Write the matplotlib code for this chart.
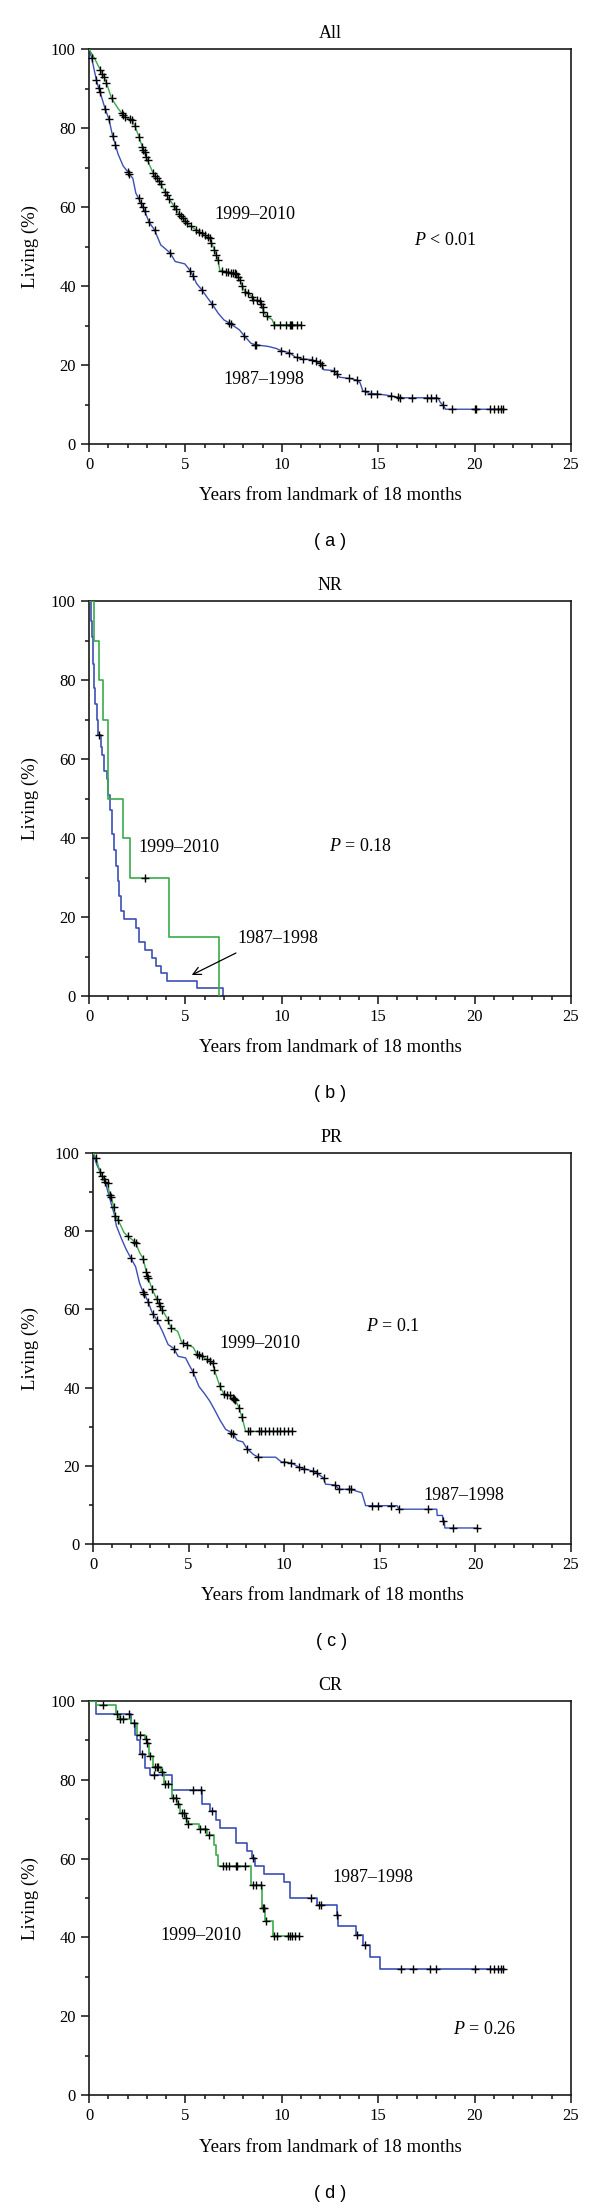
import numpy as np
import matplotlib
matplotlib.use("Agg")
import matplotlib.pyplot as plt

plt.rcParams['font.family'] = ['Liberation Serif', 'DejaVu Serif']
plt.rcParams['mathtext.fontset'] = 'custom'
plt.rcParams['mathtext.rm'] = 'Liberation Serif'
plt.rcParams['mathtext.it'] = 'Liberation Serif:italic'

BLUE = '#3c4fb4'
GREEN = '#3aab4c'

# ---------------- Panel (a) All : curve paths (t, survival %) ----------------
a_green_t = [0, 0.3, 0.58, 0.78, 0.9, 1.17, 1.5, 1.69, 1.85, 2.25, 2.37, 2.6, 2.76, 2.88, 3.04, 3.32,
             3.72, 3.92, 4.16, 4.4, 4.67, 5.1, 5.3, 5.55, 6.26, 6.35, 6.5, 6.7, 6.78, 7.65, 7.84, 7.94,
             8.1, 8.25, 8.45, 8.53, 8.85, 9.0, 9.05, 9.23, 9.5, 9.6, 11.0]
a_green_s = [100, 97.5, 94.8, 92.9, 91.5, 87.5, 85, 83.8, 82.8, 81.9, 80.6, 77.7, 75.3, 73.8, 71.8, 68.6,
             65.9, 63.9, 62, 60.3, 58.2, 55.9, 55.1, 54.2, 52.1, 51, 49.2, 46.6, 44, 43.1, 41.6, 39.9,
             38.6, 38.3, 37.3, 36.5, 36.2, 34.6, 33.5, 32.3, 31.5, 30.2, 30.2]
a_green_cens = [0.58, 0.7, 0.78, 0.9, 1.17, 1.69, 1.77, 1.85, 2.13, 2.25, 2.37, 2.6, 2.76, 2.82, 2.88,
                2.98, 3.04, 3.32, 3.42, 3.52, 3.62, 3.72, 3.92, 4.02, 4.16, 4.4, 4.5, 4.67, 4.77, 4.87,
                5.0, 5.1, 5.3, 5.55, 5.7, 5.85, 6.0, 6.15, 6.26, 6.35, 6.5, 6.6, 6.7, 6.9, 7.1, 7.2,
                7.35, 7.45, 7.55, 7.65, 7.74, 7.84, 7.94, 8.1, 8.25, 8.45, 8.53, 8.7, 8.85, 8.93, 9.0,
                9.05, 9.23, 9.6, 9.9, 10.2, 10.4, 10.5, 10.55, 10.8, 11.0]
a_blue_t = [0, 0.14, 0.38, 0.5, 0.58, 0.84, 1.03, 1.23, 1.37, 1.5, 1.63, 1.77, 2.03, 2.09, 2.27, 2.43,
            2.57, 2.88, 3.12, 3.4, 3.72, 3.92, 4.22, 4.47, 4.97, 5.15, 5.4, 5.57, 5.87, 6.1, 6.42, 6.7,
            7.0, 7.3, 7.5, 7.8, 8.05, 8.4, 8.65, 9.3, 9.7, 9.98, 10.4, 10.7, 11.1, 11.5, 11.8, 12.0,
            12.1, 12.17, 12.7, 12.9, 13.0, 13.5, 13.9, 14.06, 14.2, 14.55, 14.95, 15.65, 16.05, 16.2,
            18.1, 18.2, 18.4, 18.5, 21.5]
a_blue_s = [100, 97.7, 92.2, 90.1, 89, 84.8, 82.3, 77.9, 75.8, 73.5, 72, 70.4, 68.8, 68.4, 67.3, 63.5,
            62.2, 59.1, 56.1, 54.2, 50.4, 49.6, 48.3, 46.2, 45.6, 44.5, 42.6, 40.7, 38.9, 37.3, 35.2, 33.1,
            31.4, 30.6, 29.9, 28.9, 27.4, 25.5, 25.1, 24.7, 24.2, 23.6, 23.1, 22, 21.5, 21.4, 20.9, 20.4,
            19.8, 18.8, 18.6, 17.5, 16.9, 16.6, 16.2, 15.5, 13.5, 12.8, 12.7, 12.2, 11.8, 11.7,
            11.7, 10.7, 9.5, 8.8, 8.8]
a_blue_cens = [0.14, 0.38, 0.5, 0.58, 0.84, 1.03, 1.23, 1.37, 2.03, 2.09, 2.57, 2.68, 2.78, 2.88, 3.12,
               3.4, 4.22, 5.25, 5.41, 5.87, 6.4, 7.26, 7.34, 8.05, 8.6, 8.65, 9.98, 10.38, 10.78, 11.08,
               11.58, 11.77, 11.97, 12.07, 12.71, 12.87, 13.46, 13.9, 14.3, 14.62, 14.95, 15.65, 16.05,
               16.15, 16.75, 17.54, 17.74, 17.99, 18.34, 18.84, 20.03, 20.07, 20.78, 21.02, 21.22,
               21.36, 21.46]

# ---------------- Panel (b) NR : step data ----------------
b_green_t = [0, 0.24, 0.5, 0.74, 0.99, 1.77, 2.13, 4.16, 6.76]
b_green_s = [100, 90, 80, 70, 50, 40, 30, 15, 0]
b_green_cens = [2.88]
b_blue_t = [0, 0.08, 0.14, 0.2, 0.26, 0.32, 0.4, 0.46, 0.6, 0.7, 0.78, 0.92, 0.99, 1.1, 1.2, 1.3, 1.4,
            1.5, 1.58, 1.68, 1.8, 2.46, 2.6, 2.89, 3.29, 3.5, 3.76, 4.02, 5.6, 6.96]
b_blue_s = [100, 95, 91, 84, 78, 74, 70, 66, 63, 61, 57, 55, 51, 47, 41, 37, 33,
            29, 25.3, 21.5, 19.6, 17.3, 13.6, 11.6, 9.6, 7.7, 5.8, 3.9, 2, 0]
b_blue_cens = [0.5]

# ---------------- Panel (c) PR : curve paths ----------------
c_green_t = [0, 0.16, 0.36, 0.64, 0.76, 0.88, 0.96, 1.08, 1.16, 1.32, 1.63, 1.83, 2.23, 2.43, 2.63, 2.79,
             2.89, 3.09, 3.33, 3.49, 3.63, 3.93, 4.09, 4.43, 4.63, 4.9, 5.24, 5.44, 5.68, 6.28, 6.34,
             6.64, 6.84, 7.14, 7.44, 7.64, 7.84, 7.98, 10.45]
c_green_s = [100, 98.8, 95.2, 92.6, 92.4, 89.2, 88.7, 86.3, 83.9, 82.8, 79.6, 78.7, 77.1, 74.6, 72.9, 69.5,
             68, 65.2, 62.7, 60.8, 59.9, 57.2, 55.2, 54.4, 51.7, 51, 50.3, 48.5, 48, 46.2, 44.6,
             40.3, 38.4, 38, 36.9, 34.8, 31.6, 28.8, 28.8]
c_green_cens = [0.16, 0.36, 0.48, 0.56, 0.64, 0.76, 0.88, 0.96, 1.08, 1.16, 1.32, 1.83, 2.17, 2.23, 2.63,
                2.79, 2.85, 2.89, 3.09, 3.33, 3.43, 3.49, 3.63, 3.93, 4.09, 4.73, 4.9, 5.44, 5.55, 5.68,
                5.94, 6.1, 6.28, 6.34, 6.64, 6.84, 7.0, 7.14, 7.3, 7.38, 7.44, 7.64, 7.78, 8.1, 8.2, 8.7,
                8.8, 9.0, 9.2, 9.4, 9.6, 9.8, 10.0, 10.2, 10.4]
c_blue_t = [0, 0.2, 0.42, 0.62, 0.82, 0.96, 1.12, 1.22, 1.48, 1.72, 1.97, 2.23, 2.43, 2.57, 2.69, 2.89,
            3.09, 3.33, 3.63, 3.93, 4.23, 4.45, 4.84, 5.04, 5.24, 5.54, 5.84, 6.1, 6.34, 6.64, 6.94, 7.14,
            7.34, 7.54, 7.84, 8.05, 8.39, 8.65, 9.55, 9.85, 10.35, 10.75, 11.05, 11.56, 12.06, 12.16,
            12.66, 12.86, 13.46, 14.06, 14.26, 15.9, 16.0, 17.98, 18.0, 18.28, 18.3, 18.38, 18.4, 20.1]
c_blue_s = [100, 97, 94.7, 92.9, 89.4, 86.9, 84.2, 81.4, 78.2, 75.5, 73.2, 70.9, 66.8, 65, 64, 61.9,
            59.2, 57.4, 54.4, 51, 50, 48, 47.6, 45.7, 43.9, 40.3, 38.4, 36.6, 34.5, 31.7, 29.3, 28.8,
            28.1, 26.5, 26.1, 24.4, 22.9, 22.2, 22.2, 21, 20.8, 19.7, 19.2, 18.6, 16.9, 15.3,
            15.1, 14, 14, 13.1, 9.8, 9.8, 8.9, 8.9, 7.3, 7.3, 5.9, 5.9, 4.1, 4.1]
c_blue_cens = [1.97, 2.63, 2.69, 2.89, 3.15, 3.33, 4.23, 5.24, 7.24, 7.34, 8.05, 8.65, 10.0, 10.35, 10.8,
               11.05, 11.5, 11.7, 12.06, 12.66, 12.86, 13.4, 13.5, 14.6, 14.9, 15.6, 16.0, 17.5, 18.3,
               18.85, 20.1]

# ---------------- Panel (d) CR : step data ----------------
d_green_t = [0, 0.38, 1.39, 1.55, 2.2, 2.5, 2.9, 3.0, 3.1, 3.3, 3.75, 3.9, 4.3, 4.58, 4.7, 4.98, 5.08,
             5.7, 6.1, 6.5, 6.6, 6.7, 8.4, 8.95, 8.98, 9.15, 9.55, 10.9]
d_green_s = [100, 99.1, 96.6, 95.4, 94.4, 91.3, 90.3, 89.3, 86, 83.2, 82, 78.9, 75.4, 73.8, 71.6, 70.3,
             68.9, 67.5, 65.9, 63.5, 61, 58.1, 53.3, 50, 47.5, 44.1, 40.4, 40.4]
d_green_cens = [0.74, 1.43, 1.63, 1.77, 2.33, 2.63, 2.98, 3.02, 3.16, 3.42, 3.52, 3.6, 3.78, 3.96, 4.12,
                4.36, 4.5, 4.61, 4.81, 4.91, 5.01, 5.11, 5.75, 6.0, 6.2, 6.95, 7.1, 7.25, 7.6, 7.7, 8.1,
                8.5, 8.65, 8.9, 9.0, 9.09, 9.19, 9.6, 9.75, 10.3, 10.45, 10.55, 10.7, 10.9]
d_blue_t = [0, 0.38, 2.2, 2.4, 2.5, 2.65, 2.9, 3.15, 4.28, 5.88, 6.3, 6.6, 6.8, 7.6, 8.2, 8.45, 8.6,
            9.1, 10.1, 10.45, 11.8, 12.85, 12.92, 13.85, 14.2, 14.55, 15.1, 21.5]
d_blue_s = [100, 96.6, 94.4, 91.3, 90.1, 86.6, 83, 81.2, 77.3, 73.8, 72, 69.8, 67.7, 64, 62, 60.1, 58.2,
            56, 54, 50, 48.2, 45.6, 43, 40.7, 38, 35, 32, 32]
d_blue_cens = [2.09, 2.75, 3.38, 5.4, 5.8, 6.4, 8.53, 11.5, 11.95, 12.05, 12.87, 13.9, 14.3, 16.2, 16.8,
               17.7, 18.0, 20.0, 20.8, 21.0, 21.2, 21.35, 21.45]

# ---------------- Texts ----------------
titles = ['All', 'NR', 'PR', 'CR']
panel_tags = ['( a )', '( b )', '( c )', '( d )']
xlabel = 'Years from landmark of 18 months'
ylabel = 'Living (%)'
label_new = '1999\u20132010'
label_old = '1987\u20131998'
pvals = [r'$P$ < 0.01', r'$P$ = 0.18', r'$P$ = 0.1', r'$P$ = 0.26']

# ---------------- Layout (pixels in 600 x 2208) ----------------
W, H = 600, 2208
boxes = [(89, 49, 571, 444), (89, 601, 571, 996), (93, 1153, 571, 1544), (89, 1701, 571, 2095)]

fig = plt.figure(figsize=(W / 100, H / 100), dpi=100)


def fx(x):
    return x / W


def fy(y):
    return 1 - y / H


def step_val(t, s, tc):
    t = np.asarray(t)
    s = np.asarray(s)
    idx = np.searchsorted(t, tc, side='right') - 1
    return s[np.clip(idx, 0, len(s) - 1)]


axes = []
for i, (l, t, r, b) in enumerate(boxes):
    ax = fig.add_axes([fx(l), fy(b), (r - l) / W, (b - t) / H])
    ax.set_xlim(0, 25)
    ax.set_ylim(0, 100)
    ax.set_xticks(np.arange(0, 26, 5))
    ax.set_xticks(np.arange(0, 26, 1), minor=True)
    ax.set_yticks(np.arange(0, 101, 20))
    ax.set_yticks(np.arange(0, 101, 10), minor=True)
    ax.tick_params(which='both', direction='out', labelsize=12, width=1.1, color='#111111')
    ax.tick_params(which='major', length=5.5, pad=4)
    ax.tick_params(which='minor', length=3)
    for sp in ax.spines.values():
        sp.set_linewidth(1.2)
        sp.set_color('#1a1a1a')
    cx = (l + r) / 2
    fig.text(fx(cx), fy(t - 15), titles[i], ha='center', va='center', fontsize=13)
    fig.text(fx(cx), fy(b + 52), xlabel, ha='center', va='center', fontsize=13.5)
    fig.text(fx(cx), fy(b + 98), panel_tags[i], ha='center', va='center', fontsize=13,
             family=['Liberation Sans', 'DejaVu Sans'])
    fig.text(fx(30), fy((t + b) / 2), ylabel, ha='center', va='center', rotation=90, fontsize=13.5)
    axes.append(ax)

mk = dict(marker='+', color='black', markersize=6, markeredgewidth=1.0, linestyle='none',
          zorder=4, clip_on=False)

# (a)
ax = axes[0]
ax.plot(a_blue_t, a_blue_s, color=BLUE, lw=1.0, zorder=2)
ax.plot(a_green_t, a_green_s, color=GREEN, lw=1.0, zorder=3)
ax.plot(a_blue_cens, np.interp(a_blue_cens, a_blue_t, a_blue_s), **mk)
ax.plot(a_green_cens, np.interp(a_green_cens, a_green_t, a_green_s), **mk)
ax.text(8.6, 58, label_new, ha='center', va='center', fontsize=13)
ax.text(9.05, 16.4, label_old, ha='center', va='center', fontsize=13)
ax.text(18.5, 51.5, pvals[0], ha='center', va='center', fontsize=13)

# (b)
ax = axes[1]
ax.plot(b_blue_t, b_blue_s, color=BLUE, lw=1.2, drawstyle='steps-post', zorder=2)
ax.plot(b_green_t, b_green_s, color=GREEN, lw=1.2, drawstyle='steps-post', zorder=3)
ax.plot(b_blue_cens, step_val(b_blue_t, b_blue_s, b_blue_cens), **mk)
ax.plot(b_green_cens, step_val(b_green_t, b_green_s, b_green_cens), **mk)
ax.text(4.65, 37.7, label_new, ha='center', va='center', fontsize=13)
ax.text(14.1, 37.8, pvals[1], ha='center', va='center', fontsize=13)
ax.text(9.8, 14.6, label_old, ha='center', va='center', fontsize=13)
ax.annotate('', xy=(5.2, 5.0), xytext=(7.75, 11.2),
            arrowprops=dict(arrowstyle='->', color='black', lw=0.9, mutation_scale=14))

# (c)
ax = axes[2]
ax.plot(c_blue_t, c_blue_s, color=BLUE, lw=1.0, zorder=2)
ax.plot(c_green_t, c_green_s, color=GREEN, lw=1.0, zorder=3)
ax.plot(c_blue_cens, np.interp(c_blue_cens, c_blue_t, c_blue_s), **mk)
ax.plot(c_green_cens, np.interp(c_green_cens, c_green_t, c_green_s), **mk)
ax.text(8.75, 51.2, label_new, ha='center', va='center', fontsize=13)
ax.text(15.7, 55.5, pvals[2], ha='center', va='center', fontsize=13)
ax.text(19.4, 12.5, label_old, ha='center', va='center', fontsize=13)

# (d)
ax = axes[3]
ax.plot(d_blue_t, d_blue_s, color=BLUE, lw=1.2, drawstyle='steps-post', zorder=2)
ax.plot(d_green_t, d_green_s, color=GREEN, lw=1.2, drawstyle='steps-post', zorder=3)
ax.plot(d_blue_cens, step_val(d_blue_t, d_blue_s, d_blue_cens), **mk)
ax.plot(d_green_cens, step_val(d_green_t, d_green_s, d_green_cens), **mk)
ax.text(14.7, 55.2, label_old, ha='center', va='center', fontsize=13)
ax.text(5.8, 40.4, label_new, ha='center', va='center', fontsize=13)
ax.text(20.5, 16.5, pvals[3], ha='center', va='center', fontsize=13)

fig.savefig('out.png', dpi=100, facecolor='white')
